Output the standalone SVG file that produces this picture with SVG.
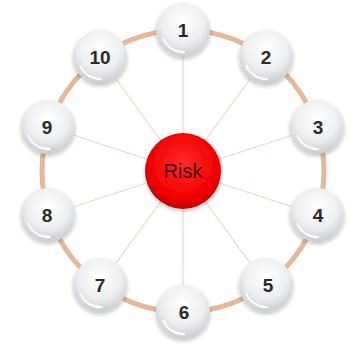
<svg xmlns="http://www.w3.org/2000/svg" width="356" height="347" viewBox="0 0 356 347">
<defs>
<radialGradient id="ball" cx="0.5" cy="0.35" r="0.65">
<stop offset="0" stop-color="#ffffff"/>
<stop offset="0.6" stop-color="#eceef0"/>
<stop offset="1" stop-color="#c9ccd0"/>
</radialGradient>
<radialGradient id="red" cx="0.5" cy="0.4" r="0.6">
<stop offset="0" stop-color="#ff2a2a"/>
<stop offset="0.75" stop-color="#f20000"/>
<stop offset="1" stop-color="#c00000"/>
</radialGradient>
<filter id="sh" x="-30%" y="-30%" width="160%" height="160%">
<feGaussianBlur in="SourceAlpha" stdDeviation="2"/>
<feOffset dx="0" dy="2"/>
<feComponentTransfer><feFuncA type="linear" slope="0.25"/></feComponentTransfer>
<feMerge><feMergeNode/><feMergeNode in="SourceGraphic"/></feMerge>
</filter>
</defs>
<style>
.spoke{stroke:#f2d6bd;stroke-width:1.2}
.ring{fill:none;stroke:#e6b899;stroke-width:5}
.b{fill:url(#ball);filter:url(#sh)}
.hl{fill:none;stroke:#ffffff;stroke-width:2;opacity:0.9}
.t{font-family:"Liberation Sans",Arial,sans-serif;font-size:19px;font-weight:bold;fill:#2a2a2a;text-anchor:middle}
</style>
<g id="connectors">
<circle class="ring" cx="183" cy="171" r="141"/>
<line class="spoke" x1="183" y1="171" x2="183" y2="30"/>
<line class="spoke" x1="183" y1="171" x2="266" y2="57"/>
<line class="spoke" x1="183" y1="171" x2="317" y2="127"/>
<line class="spoke" x1="183" y1="171" x2="317" y2="215"/>
<line class="spoke" x1="183" y1="171" x2="266" y2="285"/>
<line class="spoke" x1="183" y1="171" x2="183" y2="312"/>
<line class="spoke" x1="183" y1="171" x2="100" y2="285"/>
<line class="spoke" x1="183" y1="171" x2="49" y2="215"/>
<line class="spoke" x1="183" y1="171" x2="49" y2="127"/>
<line class="spoke" x1="183" y1="171" x2="100" y2="57"/>
</g>
<g id="risk">
<circle cx="183" cy="171" r="38" fill="url(#red)" filter="url(#sh)"/>
<text x="183" y="178" font-family="Liberation Sans,Arial,sans-serif" font-size="20" fill="#4a0000" text-anchor="middle">Risk</text>
</g>
<g id="n1"><circle class="b" cx="183" cy="30" r="27"/><path class="hl" d="M163 38 A22 22 0 0 0 185 52"/><text class="t" x="183" y="37">1</text></g>
<g id="n2"><circle class="b" cx="266" cy="57" r="27"/><path class="hl" d="M246 65 A22 22 0 0 0 268 79"/><text class="t" x="266" y="64">2</text></g>
<g id="n3"><circle class="b" cx="317" cy="127" r="27"/><path class="hl" d="M297 135 A22 22 0 0 0 319 149"/><text class="t" x="318" y="134">3</text></g>
<g id="n4"><circle class="b" cx="317" cy="215" r="27"/><path class="hl" d="M297 223 A22 22 0 0 0 319 237"/><text class="t" x="318" y="222">4</text></g>
<g id="n5"><circle class="b" cx="266" cy="285" r="27"/><path class="hl" d="M246 293 A22 22 0 0 0 268 307"/><text class="t" x="268" y="292">5</text></g>
<g id="n6"><circle class="b" cx="183" cy="312" r="27"/><path class="hl" d="M163 320 A22 22 0 0 0 185 334"/><text class="t" x="184" y="319">6</text></g>
<g id="n7"><circle class="b" cx="100" cy="285" r="27"/><path class="hl" d="M80 293 A22 22 0 0 0 102 307"/><text class="t" x="100" y="292">7</text></g>
<g id="n8"><circle class="b" cx="48" cy="215" r="27"/><path class="hl" d="M28 223 A22 22 0 0 0 50 237"/><text class="t" x="47" y="222">8</text></g>
<g id="n9"><circle class="b" cx="48" cy="127" r="27"/><path class="hl" d="M28 135 A22 22 0 0 0 50 149"/><text class="t" x="47" y="134">9</text></g>
<g id="n10"><circle class="b" cx="100" cy="57" r="27"/><path class="hl" d="M80 65 A22 22 0 0 0 102 79"/><text class="t" x="100" y="64">10</text></g>
</svg>
